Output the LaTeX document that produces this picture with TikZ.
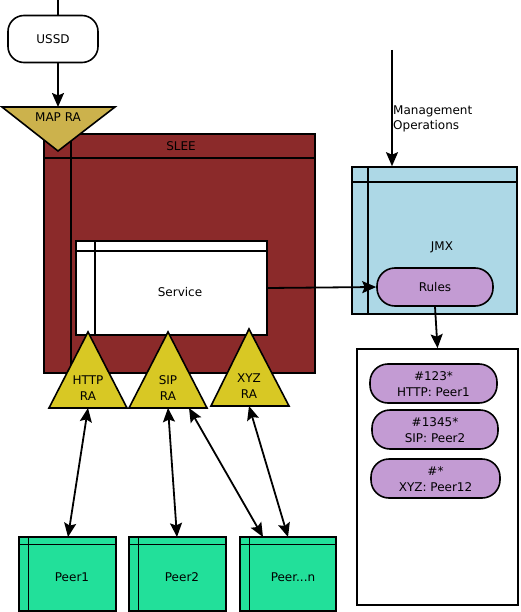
\documentclass[tikz,border=0pt]{standalone}
\usepackage{fontspec}
\setmainfont{DejaVu Sans}
\usetikzlibrary{arrows.meta}
\definecolor{sleered}{RGB}{139,42,42}
\definecolor{mapgold}{RGB}{204,178,76}
\definecolor{rayellow}{RGB}{216,200,36}
\definecolor{jmxblue}{RGB}{173,216,230}
\definecolor{rulepurple}{RGB}{195,155,211}
\definecolor{peergreen}{RGB}{34,224,154}
\tikzset{
  box/.style={draw=black, line width=1.6pt, inner sep=0pt, minimum width=#1},
  pill/.style={draw=black, line width=1.6pt, inner sep=0pt, rounded corners=18pt, fill=rulepurple, align=center},
  tipshape/.style={Stealth[length=14pt,width=12pt,inset=2.5pt]},
  arr/.style={line width=1.8pt, -{Stealth[length=14pt,width=12pt,inset=2.5pt]}},
  darr/.style={line width=1.8pt, {Stealth[length=14pt,width=12pt,inset=2.5pt]}-{Stealth[length=14pt,width=12pt,inset=2.5pt]}},
  tri/.style={draw=black, line width=1.6pt, line join=miter},
  inner/.style={line width=1.3pt},
  lbl/.style={inner sep=0pt, align=center, font=\fontsize{12}{15.5}\selectfont},
  peerbox/.style={box=97pt, minimum height=74pt, fill=peergreen}
}
\begin{document}
\begin{tikzpicture}[x=1pt,y=-1pt]
\useasboundingbox (0,0) rectangle (520,612);

% USSD
\node[box=90pt, minimum height=47pt, rounded corners=16pt, fill=white] (ussd) at (53,39) {};
\node[lbl] (ussdlbl) at (53,39) {USSD};
\coordinate (ussdin) at (58,0);
\draw[line width=1.8pt] (ussdin) -- (ussdin |- ussd.north);

% SLEE
\node[box=271pt, minimum height=239pt, fill=sleered] (slee) at (179.5,253.5) {};
\draw[inner] (slee.north west |- 0,158) -- (slee.north east |- 0,158);
\draw[inner] (71,0 |- slee.north) -- (71,0 |- slee.south);
\node[lbl] (sleelbl) at (181,146) {SLEE};

% MAP RA
\coordinate (mapL) at (2,107);
\coordinate (mapR) at (115,107);
\coordinate (mapA) at (58,151);
\coordinate (maptop) at (58,107);
\draw[tri, fill=mapgold] (mapL) -- (mapR) -- (mapA) -- cycle;
\node[lbl] (maplbl) at (58,117) {MAP RA};
\draw[arr] (ussdin |- ussd.south) -- (maptop);

% Service
\node[box=191pt, minimum height=94pt, fill=white] (service) at (171.5,288) {};
\draw[inner] (service.north west |- 0,251) -- (service.north east |- 0,251);
\draw[inner] (95,0 |- service.north) -- (95,0 |- service.south);
\node[lbl] (servicelbl) at (180,292) {Service};

% RA triangles
\coordinate (httpA) at (88,332);
\coordinate (httpL) at (49,408);
\coordinate (httpR) at (127,408);
\draw[tri, fill=rayellow] (httpA) -- (httpR) -- (httpL) -- cycle;
\node[lbl] (httplbl) at (88,388) {HTTP\\RA};

\coordinate (sipA) at (168,332);
\coordinate (sipL) at (129,408);
\coordinate (sipR) at (207,408);
\draw[tri, fill=rayellow] (sipA) -- (sipR) -- (sipL) -- cycle;
\node[lbl] (siplbl) at (168,388) {SIP\\RA};

\coordinate (xyzA) at (249,329);
\coordinate (xyzL) at (211,406);
\coordinate (xyzR) at (289,406);
\draw[tri, fill=rayellow] (xyzA) -- (xyzR) -- (xyzL) -- cycle;
\node[lbl] (xyzlbl) at (249,386) {XYZ\\RA};

% JMX
\node[box=165pt, minimum height=147pt, fill=jmxblue] (jmx) at (434.5,240.5) {};
\draw[inner] (jmx.north west |- 0,182) -- (jmx.north east |- 0,182);
\draw[inner] (368,0 |- jmx.north) -- (368,0 |- jmx.south);
\node[lbl] (jmxlbl) at (442,247) {JMX};
\node[pill, minimum width=116pt, minimum height=38pt] (rules) at (435,287) {};
\node[lbl] (ruleslbl) at (435,287) {Rules};

% Management
\coordinate (mgmt) at (392,50);
\draw[arr] (mgmt) -- (mgmt |- jmx.north);
\node[lbl, anchor=west, align=left] (mgmtlbl) at (393,119) {Management\\Operations};

% Rule set
\node[box=161pt, minimum height=256pt, fill=white] (ruleset) at (437.5,477) {};
\node[pill, minimum width=127pt, minimum height=39pt] (r1) at (433.5,383.5) {};
\node[lbl] (r1lbl) at (433.5,384) {\#123*\\HTTP: Peer1};
\node[pill, minimum width=126pt, minimum height=39pt] (r2) at (435,429.5) {};
\node[lbl] (r2lbl) at (435,430) {\#1345*\\SIP: Peer2};
\node[pill, minimum width=129pt, minimum height=39pt] (r3) at (435.5,478.5) {};
\node[lbl] (r3lbl) at (435.5,479) {\#*\\XYZ: Peer12};

% Peers
\node[peerbox] (peer1) at (67.5,574) {};
\node[peerbox] (peer2) at (177.5,574) {};
\node[peerbox, minimum width=96pt] (peern) at (288,574) {};
\foreach \p in {peer1,peer2,peern}{
  \draw[inner] ([yshift=-8pt]\p.north west) -- ([yshift=-8pt]\p.north east);
  \draw[inner] ([xshift=10pt]\p.north west) -- ([xshift=10pt]\p.south west);
}
\node[lbl] (p1lbl) at (72,577) {Peer1};
\node[lbl] (p2lbl) at (182,577) {Peer2};
\node[lbl] (pnlbl) at (293,577) {Peer...n};

% Connectors
\draw[arr] (service.east) -- (rules.west);
\draw[arr] (rules.south) -- (ruleset.north);
\coordinate (h1) at (88,408);
\coordinate (h2) at (68,537);
\coordinate (s1) at (168,408);
\coordinate (s2) at (177,537);
\coordinate (s3) at (189,408);
\coordinate (s4) at (263,537);
\coordinate (x1) at (249,406);
\coordinate (x2) at (288,537);
\draw[darr] (h1) -- (h2);
\draw[darr] (s1) -- (s2);
\draw[darr] (s3) -- (s4);
\draw[darr] (x1) -- (x2);
\end{tikzpicture}
\end{document}
